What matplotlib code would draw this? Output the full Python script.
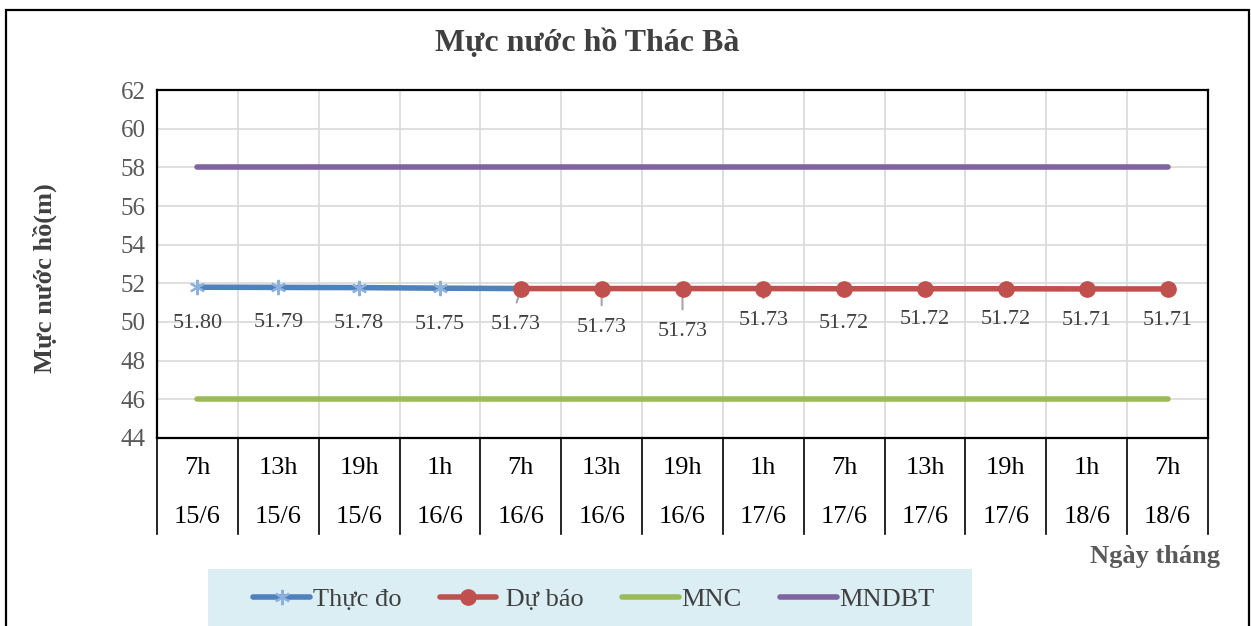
import matplotlib
matplotlib.use("Agg")
import matplotlib.pyplot as plt
from matplotlib.patches import Rectangle
from matplotlib.lines import Line2D
import matplotlib.transforms as mtransforms

plt.rcParams['font.family'] = ['Liberation Serif', 'DejaVu Serif']

# ---- data ----
hours = ["7h", "13h", "19h", "1h", "7h", "13h", "19h", "1h", "7h", "13h", "19h", "1h", "7h"]
dates = ["15/6", "15/6", "15/6", "16/6", "16/6", "16/6", "16/6", "17/6", "17/6", "17/6", "17/6", "18/6", "18/6"]
thuc_do = [51.80, 51.79, 51.78, 51.75, 51.73]
du_bao = [51.73, 51.73, 51.73, 51.73, 51.72, 51.72, 51.72, 51.71, 51.71]
du_bao_start = 4
mnc_level = 46
mndbt_level = 58
y_ticks = [44, 46, 48, 50, 52, 54, 56, 58, 60, 62]

# label styling offsets (points, below the marker)
thuc_do_lab_dy = [-26, -25, -26, -26, -26]
du_bao_lab_dy = [-26, -28, -31, -23, -25, -22, -22, -23, -23]
du_bao_lab_dx = [-4, 0, 0, 0, 0, 0, 0, 0, 0]
du_bao_leader = [True, True, True, True, False, False, False, False, False]

W, H = 1251, 626
fig = plt.figure(figsize=(W / 100, H / 100), dpi=100)
fig.patch.set_facecolor('white')

# outer chart frame
fig.patches.append(Rectangle((6 / W, -0.05), (1249 - 6) / W, (H - 10) / H + 0.05,
                             transform=fig.transFigure, fill=False, edgecolor='black', lw=1.6))

ax = fig.add_axes([157 / W, 1 - 438 / H, (1208 - 157) / W, (438 - 90) / H])
n = len(hours)
x_all = list(range(n))
ax.set_xlim(-0.5, n - 0.5)
ax.set_ylim(y_ticks[0], y_ticks[-1])
ax.set_yticks(y_ticks)
ax.set_xticks([i + 0.5 for i in range(n - 1)])
ax.set_xticklabels([])
ax.tick_params(axis='x', length=0)
ax.tick_params(axis='y', length=0, labelsize=18, labelcolor='#595959', pad=8)
ax.grid(True, color='#D9D9D9', lw=1.2)
ax.set_axisbelow(True)
for s in ax.spines.values():
    s.set_color('black')
    s.set_linewidth(1.6)

blue = '#4F81BD'
red = '#C0504D'
green = '#9BBB59'
purple = '#8064A2'
LW = 4.0

ax.plot(x_all, [mndbt_level] * n, color=purple, lw=LW, solid_capstyle='round', zorder=3)
ax.plot(x_all, [mnc_level] * n, color=green, lw=LW, solid_capstyle='round', zorder=3)
x_td = list(range(len(thuc_do)))
ax.plot(x_td, thuc_do, color=blue, lw=LW, marker=(6, 2, 0), markersize=11,
        markeredgecolor='#8DB1DD', markeredgewidth=1.5, solid_capstyle='round', zorder=4)
x_db = list(range(du_bao_start, du_bao_start + len(du_bao)))
ax.plot(x_db, du_bao, color=red, lw=LW, marker='o', markersize=11,
        markeredgecolor=red, solid_capstyle='round', zorder=5)

# data labels (the last measured point coincides with the first forecast point,
# whose label is drawn by the forecast series)
for x, v, dy in zip(x_td, thuc_do, thuc_do_lab_dy):
    if x in x_db:
        continue
    ax.annotate(f"{v:.2f}", (x, v), xytext=(0, dy), textcoords='offset points',
                ha='center', va='center', fontsize=16, color='#404040', zorder=6)
for x, v, dx, dy, lead in zip(x_db, du_bao, du_bao_lab_dx, du_bao_lab_dy, du_bao_leader):
    ax.annotate(f"{v:.2f}", (x, v), xytext=(dx, dy), textcoords='offset points',
                ha='center', va='center', fontsize=16, color='#404040', zorder=6)
    if lead:
        ax.annotate("", (x, v), xytext=(dx * 0.9, dy + 14), textcoords='offset points',
                    arrowprops=dict(arrowstyle='-', color='#A6A6A6', lw=1.5), zorder=4)

# category table below axis
trans = mtransforms.blended_transform_factory(ax.transData, ax.transAxes)
for i, (h, d) in enumerate(zip(hours, dates)):
    ax.text(i, -0.085, h, transform=trans, ha='center', va='center', fontsize=19, color='black')
    ax.text(i, -0.228, d, transform=trans, ha='center', va='center', fontsize=19, color='black')
for k in range(n + 1):
    ax.add_line(Line2D([k - 0.5, k - 0.5], [0, -0.275], transform=trans, color='black',
                       lw=1.2, clip_on=False))

# titles
fig.text(587 / W, 1 - 43 / H, "Mực nước hồ Thác Bà", ha='center', va='center',
         fontsize=23, fontweight='bold', color='#404040')
fig.text(45 / W, 1 - 278 / H, "Mực nước hồ(m)", ha='center', va='center', rotation=90,
         fontsize=19, fontweight='bold', color='#404040')
fig.text(1155 / W, 1 - 557 / H, "Ngày tháng", ha='center', va='center',
         fontsize=19, fontweight='bold', color='#595959')

# legend
fig.patches.append(Rectangle((208 / W, -0.05), (972 - 208) / W, (H - 569) / H + 0.05,
                             transform=fig.transFigure, facecolor='#DBEEF4', edgecolor='none'))
handles = [
    Line2D([], [], color=blue, lw=LW, marker=(6, 2, 0), markersize=11,
           markeredgecolor='#8DB1DD', markeredgewidth=1.5, solid_capstyle='round'),
    Line2D([], [], color=red, lw=LW, marker='o', markersize=11, solid_capstyle='round'),
    Line2D([], [], color=green, lw=LW, solid_capstyle='round'),
    Line2D([], [], color=purple, lw=LW, solid_capstyle='round'),
]
labels = ["Thực đo", " Dự báo", "MNC", "MNDBT"]
leg = fig.legend(handles, labels, loc='center', bbox_to_anchor=(594 / W, 1 - 599 / H),
                 ncol=4, frameon=False, fontsize=19, handlelength=2.15, handletextpad=0.1,
                 columnspacing=1.45)
for t in leg.get_texts():
    t.set_color('#404040')

fig.savefig("out.png", dpi=100)
